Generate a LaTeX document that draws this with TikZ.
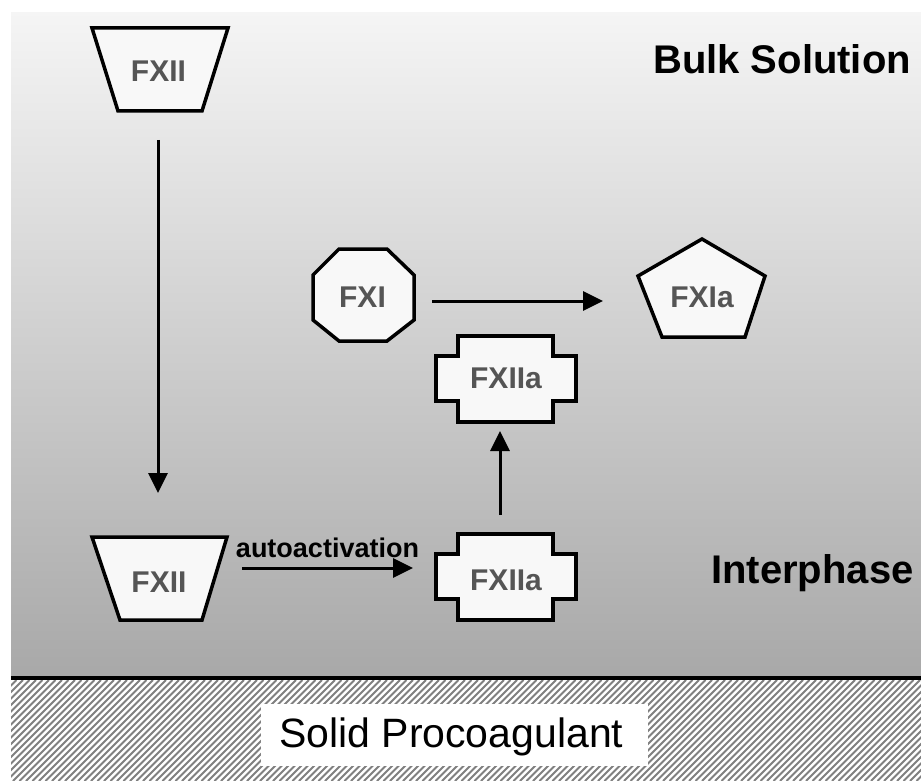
\documentclass[tikz,border=0pt]{standalone}
\usepackage{fontspec}
\setmainfont{Liberation Sans}
\usetikzlibrary{arrows.meta}
\definecolor{labgray}{HTML}{555555}
\definecolor{shapefill}{HTML}{F8F8F8}
\definecolor{hatchgray}{HTML}{808080}
\tikzset{
  fxshape/.style={draw=black, fill=shapefill, line width=3.5pt, line join=miter},
  fxlabel/.style={text=labgray, font=\fontsize{30}{36}\selectfont\bfseries, inner sep=0pt},
  biglabel/.style={text=black, font=\fontsize{40}{48}\selectfont\bfseries, inner sep=0pt, anchor=base west},
  arr/.style={line width=3pt, -{Triangle[length=20pt,width=19pt]}},
}
\begin{document}
\begin{tikzpicture}[x=1pt,y=-1pt]
\useasboundingbox (0,0) rectangle (921,781);
\fill[white] (0,0) rectangle (921,781);
% background gradient
\shade[top color=black!4, bottom color=black!34] (11,13) rectangle (921,676);
% solid procoagulant hatch
\begin{scope}
  \clip (11,680) rectangle (921,781);
  \fill[white] (11,680) rectangle (921,781);
  \foreach \x in {-104,-97.5,...,928} \draw[hatchgray, line width=1.8pt] (\x,781) -- ++(101,-101);
\end{scope}
\fill[black] (11,676) rectangle (921,680);
\fill[white] (261,704) rectangle (648,766);
\node[inner sep=0pt, anchor=base west, font=\fontsize{41}{48}\selectfont] (solid) at (279,747) {Solid Procoagulant};
% region labels
\node[biglabel] (bulk) at (653,74) {Bulk Solution};
\node[biglabel] (inter) at (711,583) {Interphase};
% shapes
\draw[fxshape] (92,28) -- (228,28) -- (202,111) -- (118,111) -- cycle;
\draw[fxshape] (92,537) -- (227,537) -- (202,620) -- (120,620) -- cycle;
\draw[fxshape] (339,249) -- (387,249) -- (414,275) -- (414,320) -- (387,341) -- (339,341) -- (313,320) -- (313,275) -- cycle;
\draw[fxshape] (702,239) -- (765,276) -- (745,337) -- (662,337) -- (638,276) -- cycle;
\draw[fxshape] (458,534) -- (553,534) -- (553,554) -- (576,554) -- (576,599) -- (553,599) -- (553,620) -- (458,620) -- (458,599) -- (436,599) -- (436,554) -- (458,554) -- cycle;
\draw[fxshape] (458,336) -- (553,336) -- (553,356) -- (576,356) -- (576,401) -- (553,401) -- (553,422) -- (458,422) -- (458,401) -- (436,401) -- (436,356) -- (458,356) -- cycle;
% labels
\node[fxlabel] (fxiitop) at (158.5,71) {FXII};
\node[fxlabel] (fxiibot) at (159,582.5) {FXII};
\node[fxlabel] (fxi) at (362.5,297) {FXI};
\node[fxlabel] (fxia) at (702,297.5) {FXIa};
\node[fxlabel] (fxiiaup) at (506,378) {FXIIa};
\node[fxlabel] (fxiiabot) at (506,580) {FXIIa};
% connector end points
\coordinate (c1s) at (158,140);
\coordinate (c1e) at (158,493);
\coordinate (c2s) at (242,568);
\coordinate (c2e) at (413,568);
\coordinate (c3s) at (500,515);
\coordinate (c3e) at (500,431);
\coordinate (c4s) at (432,301);
\coordinate (c4e) at (603,301);
\draw[arr] (c1s) -- (c1e);
\draw[arr] (c2s) -- node[above=9pt, inner sep=0pt, text=black, font=\fontsize{27}{32}\selectfont\bfseries] (auto) {autoactivation} (c2e);
\draw[arr] (c3s) -- (c3e);
\draw[arr] (c4s) -- (c4e);
\end{tikzpicture}
\end{document}
